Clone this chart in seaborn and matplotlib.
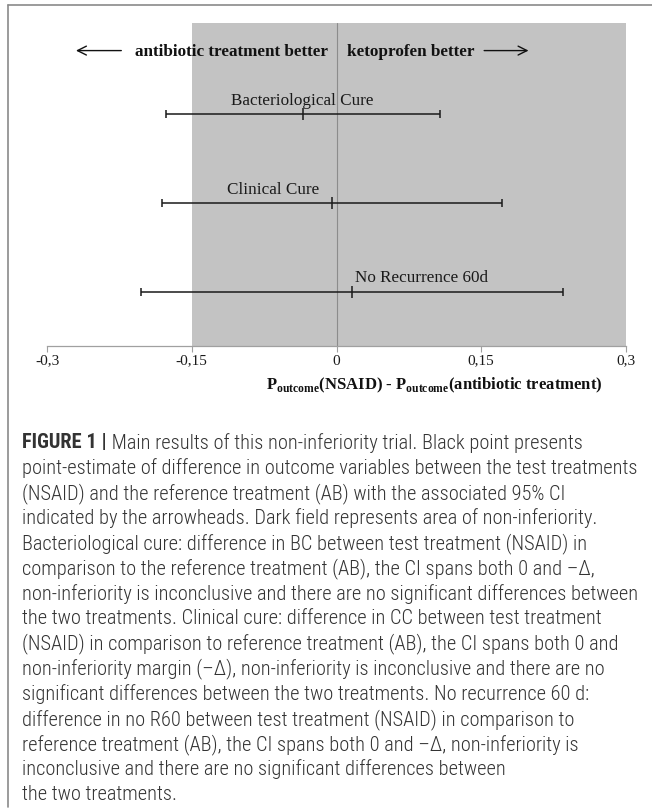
import matplotlib
matplotlib.use("Agg")
import matplotlib.pyplot as plt
import seaborn as sns
from matplotlib import font_manager
from matplotlib.lines import Line2D

# outcomes, point estimates and 95% CI bounds (NSAID - AB)
outcomes = ['Bacteriological Cure', 'Clinical Cure', 'No Recurrence 60d']
estimate = [-0.035, -0.005, 0.016]
ci_low = [-0.177, -0.181, -0.203]
ci_high = [0.107, 0.171, 0.235]
row = [3, 2, 1]
label_x = [-0.036, -0.066, 0.088]

margin = -0.15
tick_vals = [-0.3, -0.15, 0, 0.15, 0.3]
tick_labels = ['-0,3', '-0,15', '0', '0,15', '0,3']

caption = [
    "point-estimate of difference in outcome variables between the test treatments",
    "(NSAID) and the reference treatment (AB) with the associated 95% CI",
    "indicated by the arrowheads. Dark field represents area of non-inferiority.",
    "Bacteriological cure: difference in BC between test treatment (NSAID) in",
    "comparison to the reference treatment (AB), the CI spans both 0 and \u2013\u0394,",
    "non-inferiority is inconclusive and there are no significant differences between",
    "the two treatments. Clinical cure: difference in CC between test treatment",
    "(NSAID) in comparison to reference treatment (AB), the CI spans both 0 and",
    "non-inferiority margin (\u2013\u0394), non-inferiority is inconclusive and there are no",
    "significant differences between the two treatments. No recurrence 60 d:",
    "difference in no R60 between test treatment (NSAID) in comparison to",
    "reference treatment (AB), the CI spans both 0 and \u2013\u0394, non-inferiority is",
    "inconclusive and there are no significant differences between",
    "the two treatments.",
]

sns.set_style('white')
plt.rcParams['font.family'] = ['Liberation Serif', 'DejaVu Serif']
plt.rcParams['mathtext.fontset'] = 'custom'
plt.rcParams['mathtext.rm'] = 'Liberation Serif'
plt.rcParams['mathtext.bf'] = 'Liberation Serif:bold'

installed = {f.name for f in font_manager.fontManager.ttflist}
cap_font = 'Liberation Sans'
for name in ['Liberation Sans Narrow', 'Roboto Condensed', 'Noto Sans Condensed']:
    if name in installed:
        cap_font = name
        break
cap_weight = 300
cap_color = '#333333'

W, H = 652, 812
fig = plt.figure(figsize=(W / 100, H / 100), dpi=100)
ax = fig.add_axes([47 / W, 1 - 347 / H, 579 / W, (347 - 24) / H])

ax.axvspan(margin, 0.3, color='#c3c3c3', lw=0, zorder=0)
ax.axvline(0, color='#8c8c8c', lw=0.8, zorder=1)

ax.errorbar(estimate, row, xerr=[[e - l for e, l in zip(estimate, ci_low)],
                                 [h - e for e, h in zip(estimate, ci_high)]],
            fmt='none', ecolor='#1a1a1a', elinewidth=1.1, capsize=3.2, capthick=1.1, zorder=3)
sns.scatterplot(x=estimate, y=row, marker='|', s=70, color='#1a1a1a', linewidth=1.1, ax=ax, zorder=4)

for name, x, y in zip(outcomes, label_x, row):
    ax.text(x, y + 0.16, name, ha='center', va='center', fontsize=12.3, color='#1a1a1a')

hy = 3.71
ax.text(-0.009, hy, 'antibiotic treatment better', ha='right', va='center',
        fontsize=12.3, fontweight='bold', color='#111111')
ax.text(0.0105, hy, 'ketoprofen better', ha='left', va='center',
        fontsize=12.3, fontweight='bold', color='#111111')
arrow = dict(arrowstyle='->', lw=1.0, color='#111111', mutation_scale=16, shrinkA=0, shrinkB=0)
ax.annotate('', xy=(-0.270, hy), xytext=(-0.223, hy), arrowprops=arrow)
ax.annotate('', xy=(0.199, hy), xytext=(0.153, hy), arrowprops=arrow)

ax.set_xlim(-0.3, 0.3)
ax.set_ylim(0.39, 4.02)
ax.set_xticks(tick_vals)
ax.set_xticklabels(tick_labels, fontsize=11, color='#1a1a1a')
ax.set_yticks([])
ax.tick_params(axis='x', direction='out', length=4, width=0.8, color='#a0a0a0', pad=1.5, bottom=True)
for side in ['top', 'right', 'left']:
    ax.spines[side].set_visible(False)
ax.spines['bottom'].set_color('#a0a0a0')
ax.spines['bottom'].set_linewidth(0.9)

fig.text(434 / W, 1 - 385 / H,
         r'P$_{\mathbf{outcome}}$(NSAID) - P$_{\mathbf{outcome}}$(antibiotic treatment)',
         ha='center', va='center', fontsize=12, fontweight='bold', color='#111111')

# frame on the top and left edge of the cropped figure
fig.add_artist(Line2D([8 / W, 1], [1 - 6 / H, 1 - 6 / H], color='#8a8a8a', lw=1.2))
fig.add_artist(Line2D([8 / W, 8 / W], [1 - 6 / H, 1 - 808 / H], color='#8a8a8a', lw=1.2))

# caption: size chosen so the widest line spans about 615 px like the reference
renderer = fig.canvas.get_renderer()
widest = 0
for line in caption:
    probe = fig.text(0, 0, line, family=cap_font, fontsize=10, fontweight=cap_weight)
    widest = max(widest, probe.get_window_extent(renderer).width)
    probe.remove()
cap_size = 10 * 615 / widest

cx = 22.5 / W
first = fig.text(cx, 1 - 443 / H, 'FIGURE 1 |', ha='left', va='center', family=cap_font,
                 fontsize=cap_size, fontweight='bold', color=cap_color)
ax.annotate(' Main results of this non-inferiority trial. Black point presents', xy=(1, 0.5),
            xycoords=first, ha='left', va='center', family=cap_font, fontsize=cap_size,
            fontweight=cap_weight, color=cap_color, annotation_clip=False)
for i, line in enumerate(caption):
    fig.text(cx, 1 - (443 + 25.1 * (i + 1)) / H, line, ha='left', va='center',
             family=cap_font, fontsize=cap_size, fontweight=cap_weight, color=cap_color)

fig.savefig('out.png', dpi=100)
